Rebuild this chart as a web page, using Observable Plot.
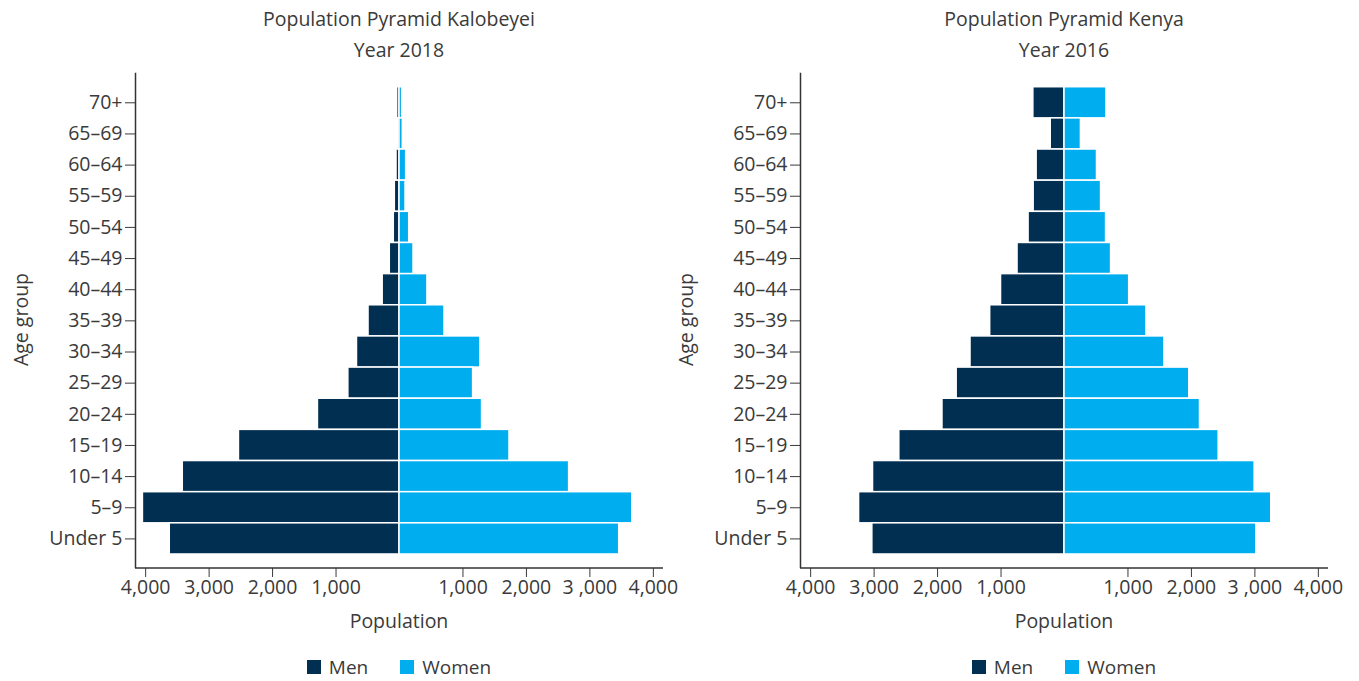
<!DOCTYPE html>
<html>
<head>
<meta charset="utf-8">
<script src="https://cdn.jsdelivr.net/npm/d3@7"></script>
<script src="https://cdn.jsdelivr.net/npm/@observablehq/plot@0.6"></script>
<style>
  html, body { margin: 0; padding: 0; background: #fff; }
  #root { position: relative; width: 1359px; height: 681px; overflow: hidden; font-family: "Open Sans", Lato, sans-serif; color: #3a3a3a; }
  .title { position: absolute; top: 3px; width: 528px; text-align: center; font-size: 19.5px; line-height: 31px; color: #3a3a3a; }
  .xlabel { position: absolute; top: 607px; width: 528px; text-align: center; font-size: 19.5px; color: #3a3a3a; }
  .ylabel { position: absolute; font-size: 19.5px; color: #3a3a3a; transform: rotate(-90deg); transform-origin: center; white-space: nowrap; width: 120px; text-align: center; }
  .legend { position: absolute; top: 654px; width: 528px; display: flex; justify-content: center; align-items: center; font-size: 19px; color: #3a3a3a; }
  .legend .sw { width: 14px; height: 14px; display: inline-block; margin-right: 8px; }
  .legend .item { display: flex; align-items: center; margin: 0 16px; }
  .chart { position: absolute; top: 62px; }
</style>
</head>
<body>
<div id="root"></div>
<script>
// ---- Data ----
const ageGroups = ["70+", "65–69", "60–64", "55–59", "50–54", "45–49", "40–44", "35–39", "30–34", "25–29", "20–24", "15–19", "10–14", "5–9", "Under 5"];

const kalobeyeiMen   = [37, 26, 47, 74, 90, 153, 265, 488, 670, 806, 1285, 2530, 3415, 4043, 3620];
const kalobeyeiWomen = [42, 52, 105, 95, 153, 221, 440, 709, 1274, 1160, 1301, 1733, 2673, 3668, 3462];

const kenyaMen   = [491, 217, 439, 486, 566, 740, 1000, 1171, 1481, 1699, 1923, 2603, 3017, 3237, 3028];
const kenyaWomen = [661, 259, 512, 576, 655, 734, 1019, 1291, 1574, 1966, 2135, 2429, 2996, 3258, 3023];

const xTicks = [-4000, -3000, -2000, -1000, 1000, 2000, 3000, 4000];
const xTickLabels = ["4,000", "3,000", "2,000", "1,000", "1,000", "2,000", "3 ,000", "4,000"];

const charts = [
  {title: "Population Pyramid Kalobeyei", subtitle: "Year 2018", men: kalobeyeiMen, women: kalobeyeiWomen, left: 0},
  {title: "Population Pyramid Kenya", subtitle: "Year 2016", men: kenyaMen, women: kenyaWomen, left: 665}
];

const seriesNames = ["Men", "Women"];
const seriesColors = ["#002f52", "#00aeef"];

// ---- Layout constants ----
const W = 680, H = 541, ML = 135, MR = 17, MT = 10.7, MB = 35;
const XMAX = 4160;
const FONT = '"Open Sans", Lato, sans-serif';

const root = document.getElementById("root");

for (const c of charts) {
  const rows = ageGroups.map((age, i) => ({age, men: c.men[i], women: c.women[i]}));

  const t = document.createElement("div");
  t.className = "title";
  t.style.left = (c.left + ML) + "px";
  t.innerHTML = `<div>${c.title}</div><div>${c.subtitle}</div>`;
  root.appendChild(t);

  const bottomLine = (index, scales, values, dimensions) => {
    const dims = dimensions || {width: W, height: H, marginLeft: ML, marginRight: MR, marginBottom: MB};
    const y = dims.height - dims.marginBottom;
    const g = d3.create("svg:g");
    g.append("line")
      .attr("x1", dims.marginLeft).attr("x2", dims.width - dims.marginRight)
      .attr("y1", y).attr("y2", y)
      .attr("stroke", "#333").attr("stroke-width", 1.5);
    return g.node();
  };

  const plot = Plot.plot({
    width: W, height: H,
    marginLeft: ML, marginRight: MR, marginTop: MT, marginBottom: MB,
    style: {fontFamily: FONT, fontSize: "19.5px", color: "#3a3a3a", background: "transparent", overflow: "visible"},
    x: {domain: [-XMAX, XMAX], ticks: xTicks, tickFormat: d => xTickLabels[xTicks.indexOf(d)], label: null, tickSize: 9, tickPadding: 3},
    y: {domain: ageGroups, paddingInner: 0, paddingOuter: 0.45, round: false, label: null, tickSize: 10, tickPadding: 3},
    marks: [
      Plot.barX(rows, {x1: 0, x2: d => -d.men, y: "age", fill: seriesColors[0], stroke: "white", strokeWidth: 1.5}),
      Plot.barX(rows, {x1: 0, x2: "women", y: "age", fill: seriesColors[1], stroke: "white", strokeWidth: 1.5}),
      Plot.ruleX([-XMAX], {stroke: "#333", strokeWidth: 1.5}),
      bottomLine
    ]
  });
  plot.classList.add("chart");
  plot.style.left = c.left + "px";
  plot.style.position = "absolute";
  root.appendChild(plot);

  const xl = document.createElement("div");
  xl.className = "xlabel";
  xl.style.left = (c.left + ML) + "px";
  xl.textContent = "Population";
  root.appendChild(xl);

  const yl = document.createElement("div");
  yl.className = "ylabel";
  yl.style.left = (c.left + 20 - 60) + "px";
  yl.style.top = (320 - 14) + "px";
  yl.textContent = "Age group";
  root.appendChild(yl);

  const lg = document.createElement("div");
  lg.className = "legend";
  lg.style.left = (c.left + ML) + "px";
  lg.innerHTML = seriesNames.map((n, i) => `<span class="item"><span class="sw" style="background:${seriesColors[i]}"></span>${n}</span>`).join("");
  root.appendChild(lg);
}
</script>
</body>
</html>
